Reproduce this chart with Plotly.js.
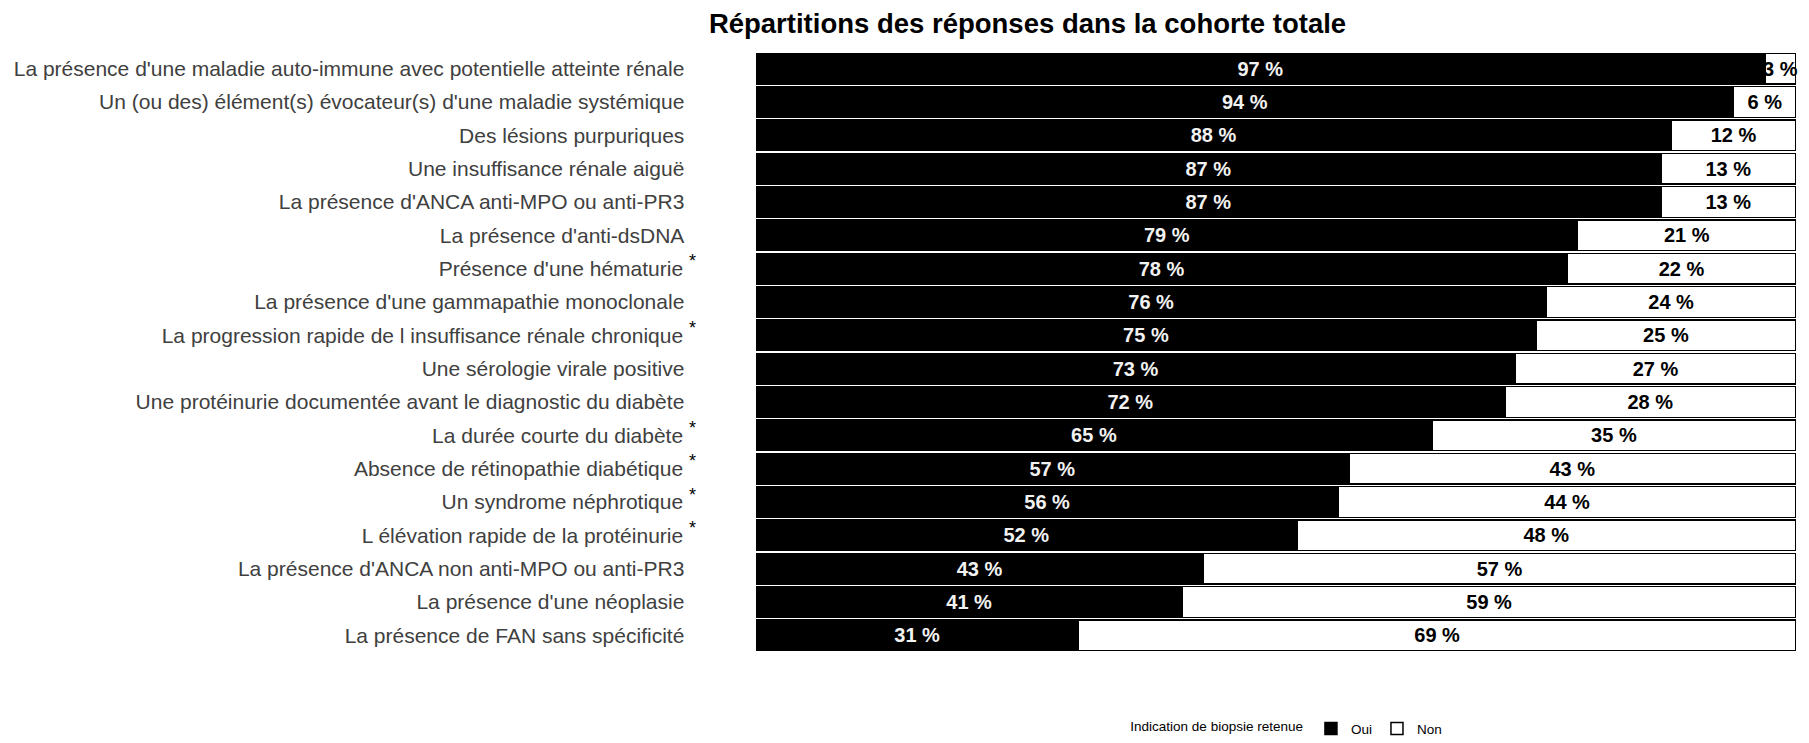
<!DOCTYPE html>
<html>
<head>
<meta charset="utf-8">
<script src="https://cdn.plot.ly/plotly-3.0.1.min.js"></script>
<style>html,body{margin:0;padding:0;background:#fff;}#chart{width:1809px;height:743px;}</style>
</head>
<body>
<div id="chart"></div>
<script>
const categories = [
  "La présence d'une maladie auto-immune avec potentielle atteinte rénale",
  "Un (ou des) élément(s) évocateur(s) d'une maladie systémique",
  "Des lésions purpuriques",
  "Une insuffisance rénale aiguë",
  "La présence d'ANCA anti-MPO ou anti-PR3",
  "La présence d'anti-dsDNA",
  "Présence d'une hématurie",
  "La présence d'une gammapathie monoclonale",
  "La progression rapide de l insuffisance rénale chronique",
  "Une sérologie virale positive",
  "Une protéinurie documentée avant le diagnostic du diabète",
  "La durée courte du diabète",
  "Absence de rétinopathie diabétique",
  "Un syndrome néphrotique",
  "L élévation rapide de la protéinurie",
  "La présence d'ANCA non anti-MPO ou anti-PR3",
  "La présence d'une néoplasie",
  "La présence de FAN sans spécificité"
];
const starred = [false,false,false,false,false,false,true,false,true,false,false,true,true,true,true,false,false,false];
const oui = [97,94,88,87,87,79,78,76,75,73,72,65,57,56,52,43,41,31];
const non = [3,6,12,13,13,21,22,24,25,27,28,35,43,44,48,57,59,69];
const seriesNames = ["Oui","Non"];
const legendTitle = "Indication de biopsie retenue";
const chartTitle = "Répartitions des réponses dans la cohorte totale";

const tickLabels = categories.map((c,i)=> starred[i]
  ? c + "\u00a0<sup><span style=\"color:#000000;font-size:18px\">*</span></sup>"
  : c + "\u00a0\u00a0");

const FONT = 'Liberation Sans, Arial, sans-serif';

const traces = [
  {
    type:'bar', orientation:'h', name:seriesNames[0],
    y:categories, x:oui,
    text:oui.map(v=>v+" %"), textposition:'inside', insidetextanchor:'middle',
    textangle:0, constraintext:'none',
    textfont:{family:FONT, size:20, color:'#f2f2f2', weight:'bold'},
    marker:{color:'#000000', line:{color:'#000000', width:1.5}},
    hoverinfo:'skip'
  },
  {
    type:'bar', orientation:'h', name:seriesNames[1],
    y:categories, x:non,
    text:non.map(v=>v+" %"), textposition:'inside', insidetextanchor:'middle',
    textangle:0, constraintext:'none', cliponaxis:false,
    textfont:{family:FONT, size:20, color:'#000000', weight:'bold'},
    marker:{color:'#ffffff', line:{color:'#000000', width:1.5}},
    hoverinfo:'skip'
  }
];

const layout = {
  width:1809, height:743,
  margin:{l:756, r:13, t:52, b:91, pad:0, autoexpand:false},
  paper_bgcolor:'#ffffff', plot_bgcolor:'#ffffff',
  barmode:'stack', bargap:0.08,
  font:{family:FONT, color:'#000000'},
  title:{text:chartTitle, x:0.568, xanchor:'center', y:0.968, yanchor:'middle', yref:'container',
         font:{family:FONT, size:27.5, color:'#000000', weight:'bold'}},
  xaxis:{range:[0,100], visible:false, showgrid:false, zeroline:false, fixedrange:true},
  yaxis:{type:'category', autorange:'reversed', tickvals:categories, ticktext:tickLabels,
         showgrid:false, zeroline:false, showline:false, ticks:'', ticklabelstandoff:59,
         tickfont:{family:FONT, size:21, color:'#404040'}},
  showlegend:true,
  legend:{orientation:'h', x:0.358, xanchor:'left', y:-0.128, yanchor:'middle',
          title:{text:legendTitle, side:'left', font:{size:13.5}},
          font:{size:13.5, color:'#000000'}, traceorder:'normal', itemwidth:30},
};

Plotly.newPlot('chart', traces, layout, {displayModeBar:false, staticPlot:true});
</script>
</body>
</html>
